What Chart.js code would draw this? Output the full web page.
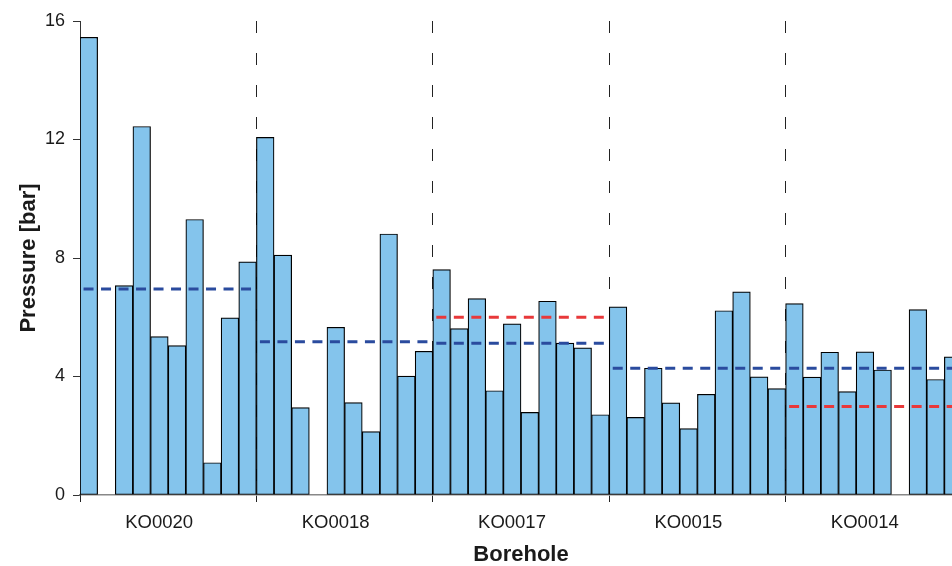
<!DOCTYPE html>
<html>
<head>
<meta charset="utf-8">
<script src="https://cdn.jsdelivr.net/npm/chart.js@4.4.1/dist/chart.umd.min.js"></script>
<style>
  html, body { margin: 0; padding: 0; background: #fff; overflow: hidden; }
  #wrap { width: 962px; height: 566px; }
</style>
</head>
<body>
<div id="wrap"><canvas id="chart" width="962" height="566"></canvas></div>
<script>
'use strict';

// ── Data ───────────────────────────────────────────────────
const groups = ['KO0020', 'KO0018', 'KO0017', 'KO0015', 'KO0014'];

// 10 samples per borehole, null = no bar
const pressure = [
  15.45, null, 7.07, 12.44, 5.35, 5.04, 9.3, 1.09, 5.98, 7.87,
  12.07, 8.1, 2.95, null, 5.66, 3.12, 2.14, 8.81, 4.01, 4.85,
  7.61, 5.62, 6.63, 3.52, 5.78, 2.79, 6.54, 5.13, 4.97, 2.71,
  6.35, 2.62, 4.28, 3.11, 2.24, 3.40, 6.22, 6.86, 3.99, 3.59,
  6.46, 3.98, 4.82, 3.49, 4.83, 4.22, null, 6.26, 3.90, 4.66
];

const meanBlue = [6.95, 5.17, 5.12, 4.28, 4.28];
const meanRed  = [null, null, 6.0, null, 2.99];

const yTicks = [0, 4, 8, 12, 16];

// ── Helpers ────────────────────────────────────────────────
const perGroup = pressure.length / groups.length;
const barLabels = pressure.map((_, i) => String(i));
const INSET = 0.2;

function meanLines(means, color) {
  return means.map((m, g) => m == null ? null : {
    type: 'line',
    xAxisID: 'xl',
    yAxisID: 'y',
    data: [
      { x: g * perGroup - 0.5 + INSET, y: m },
      { x: (g + 1) * perGroup - 0.5 - INSET, y: m }
    ],
    borderColor: color,
    borderWidth: 3,
    borderDash: [10, 7.5],
    pointRadius: 0,
    fill: false,
    order: 0
  }).filter(Boolean);
}

Chart.defaults.font.family = '"Liberation Sans", Arial, sans-serif';
Chart.defaults.color = '#1a1a1a';

new Chart(document.getElementById('chart').getContext('2d'), {
  type: 'bar',
  data: {
    labels: barLabels,
    datasets: [
      {
        label: 'Pressure',
        data: pressure,
        xAxisID: 'x',
        yAxisID: 'y',
        backgroundColor: '#84C4EC',
        borderColor: '#000',
        borderWidth: 1.2,
        borderSkipped: false,
        grouped: false,
        categoryPercentage: 1,
        barPercentage: 1,
        order: 1
      },
      ...meanLines(meanBlue, '#2A4B9E'),
      ...meanLines(meanRed, '#E8383A')
    ]
  },
  options: {
    responsive: false,
    animation: false,
    layout: { padding: { top: 21, right: 0, bottom: 0, left: 0 } },
    plugins: { legend: { display: false }, tooltip: { enabled: false } },
    scales: {
      x: { type: 'category', display: false, offset: true },
      xl: { type: 'linear', display: false, offset: false, min: -0.5, max: pressure.length - 0.5 },
      xg: {
        type: 'category',
        position: 'bottom',
        labels: groups,
        offset: true,
        grid: {
          offset: true,
          color: '#222',
          lineWidth: 1,
          drawOnChartArea: true,
          drawTicks: true,
          tickLength: 7,
          tickColor: '#222',
          tickBorderDash: []
        },
        border: { display: true, color: '#888', width: 1.5, dash: [12, 20] },
        ticks: { font: { size: 18.5 }, padding: 10, labelOffset: -9, maxRotation: 0, autoSkip: false },
        title: {
          display: true,
          text: 'Borehole',
          font: { size: 22, weight: 'bold', lineHeight: 1 },
          padding: { top: 0, bottom: 0 }
        },
        afterFit: s => { s.height = 71; }
      },
      y: {
        min: 0,
        max: 16,
        afterBuildTicks: s => { s.ticks = yTicks.map(v => ({ value: v })); },
        grid: { drawOnChartArea: false, drawTicks: true, tickLength: 7, tickColor: '#333' },
        border: { display: true, color: '#333', width: 1 },
        ticks: { font: { size: 18 }, padding: 8 },
        title: {
          display: true,
          text: 'Pressure [bar]',
          font: { size: 22, weight: 'bold', lineHeight: 1 },
          padding: { top: 18, bottom: 0 }
        },
        afterFit: s => { s.width = 80; }
      }
    }
  }
});
</script>
</body>
</html>
